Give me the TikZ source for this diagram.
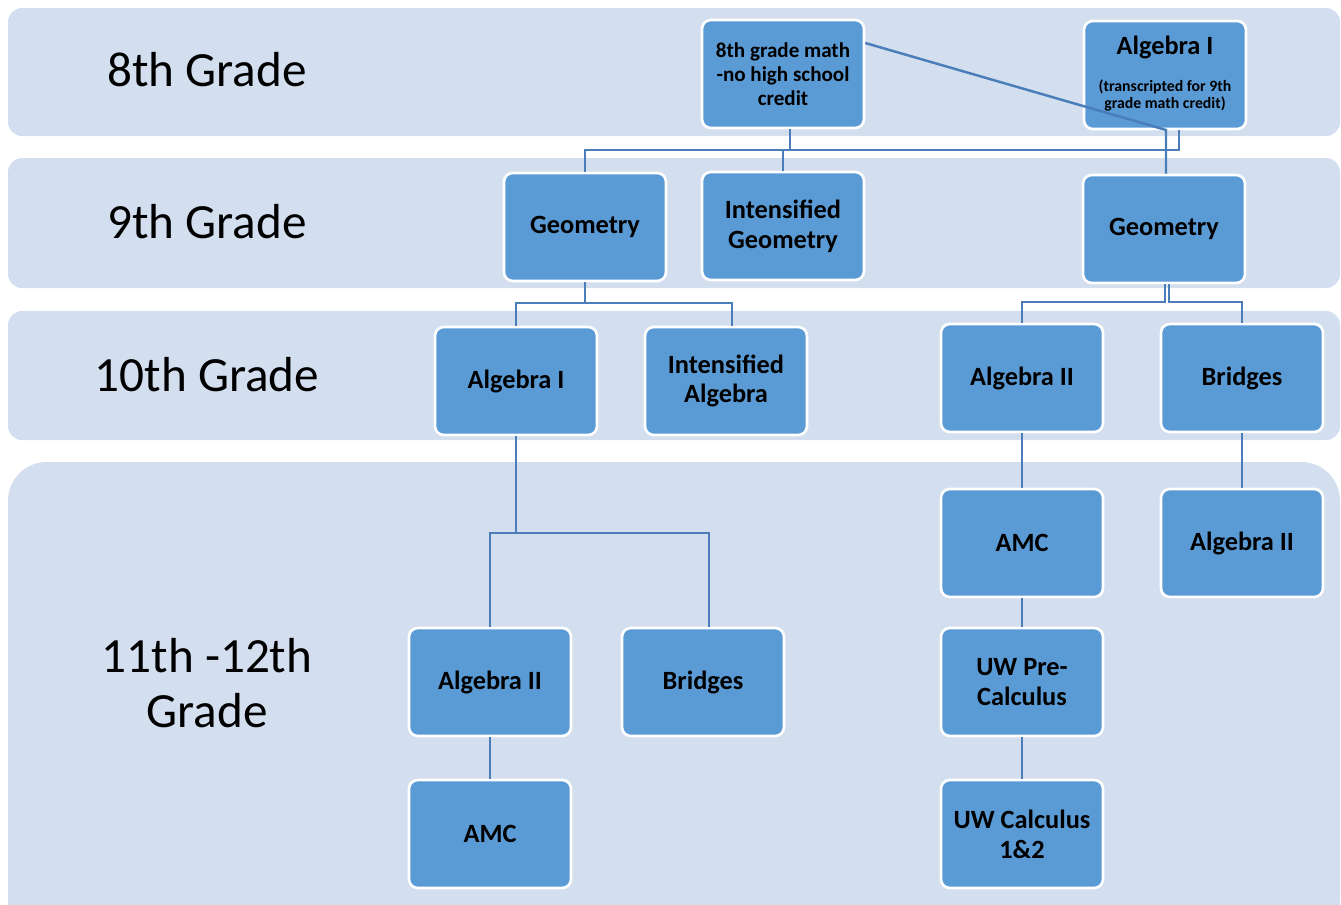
\documentclass[tikz,border=0pt]{standalone}
\usepackage{fontspec}
\setmainfont{Carlito}
\definecolor{bandc}{HTML}{D3DEEF}
\definecolor{boxc}{HTML}{5B9BD5}
\definecolor{linkc}{HTML}{4A7EBB}

\begin{document}
\begin{tikzpicture}[x=0.02cm,y=-0.02cm]
\tikzstyle{grade} = [font=\fontsize{28}{31}\selectfont,align=center];
\tikzstyle{band} = [fill=bandc,rounded corners=8pt];
\tikzstyle{course} = [rectangle,rounded corners=5pt,draw=white,line width=1.5pt,fill=boxc,minimum width=3.24cm,minimum height=2.16cm,align=center,font=\bfseries\fontsize{15}{17}\selectfont];
\tikzstyle{link} = [draw=linkc,line width=1.4pt];
\useasboundingbox (0,0) rectangle (1341,904);
\clip (0,0) rectangle (1341,904);

% grade bands
\fill [band] (8,8) rectangle (1340,136);
\fill [band] (8,158) rectangle (1340,288);
\fill [band] (8,311) rectangle (1340,440);
\fill [band,rounded corners=22pt] (8,462) rectangle (1340,940);
\node [grade] (l8) at (207,70) {8th Grade};
\node [grade] (l9) at (207,222) {9th Grade};
\node [grade] (l10) at (207,375) {10th Grade};
\node [grade] (l11) at (207,683) {11th -12th\\Grade};

% 8th grade
\node [course,font=\bfseries\fontsize{12}{13.6}\selectfont] (m8) at (783,74) {8th grade math\\-no high school\\credit};
\node [course] (a8) at (1165,75) {Algebra I\\[9pt]{\fontsize{9}{9.6}\selectfont\begin{tabular}{@{}c@{}}(transcripted for 9th\\grade math credit)\end{tabular}}};

% 9th grade
\node [course] (geoL) at (585,227) {Geometry};
\node [course] (igeo) at (783,226) {Intensified\\Geometry};
\node [course] (geoR) at (1164,229) {Geometry};

% 10th grade
\node [course] (alg1) at (516,381) {Algebra I};
\node [course] (ialg) at (726,381) {Intensified\\Algebra};
\node [course] (alg2) at (1022,378) {Algebra II};
\node [course] (brg) at (1242,378) {Bridges};

% 11th-12th grade
\node [course] (alg2L) at (490,682) {Algebra II};
\node [course] (brgL) at (703,682) {Bridges};
\node [course] (amcL) at (490,834) {AMC};
\node [course] (amc) at (1022,543) {AMC};
\node [course] (alg2b) at (1242,543) {Algebra II};
\node [course] (pre) at (1022,682) {UW Pre-\\Calculus};
\node [course] (calc) at (1022,834) {UW Calculus\\1\&2};

% connectors
\coordinate (j8) at (790,150);
\coordinate (j9) at (1179,150);
\coordinate (k) at (1166,130);
\coordinate (j10) at (585,303);
\coordinate (j11) at (1165,302);
\coordinate (j12) at (1169,302);
\coordinate (j13) at (516,533);
\draw [link] (m8.south -| j8) -- (j8);
\draw [link] (geoL.north) |- (j9) -- (a8.south -| j9);
\draw [link] (igeo.north) -- (igeo.north |- j9);
\draw [link] (m8.east |- 0,43) -- (k) -- (k |- geoR.north);
\draw [link] (geoL.south) -- (j10);
\draw [link] (alg1.north) |- (j10) -| (ialg.north -| 732,0);
\draw [link] (geoR.south -| j11) -- (j11) -| (alg2.north);
\draw [link] (geoR.south -| j12) -- (j12) -| (brg.north);
\draw [link] (alg1.south) -- (j13);
\draw [link] (alg2L.north) |- (j13) -| (brgL.north -| 709,0);
\draw [link] (alg2L) -- (amcL);
\draw [link] (alg2) -- (amc);
\draw [link] (amc) -- (pre);
\draw [link] (pre) -- (calc);
\draw [link] (brg) -- (alg2b);
\end{tikzpicture}
\end{document}
